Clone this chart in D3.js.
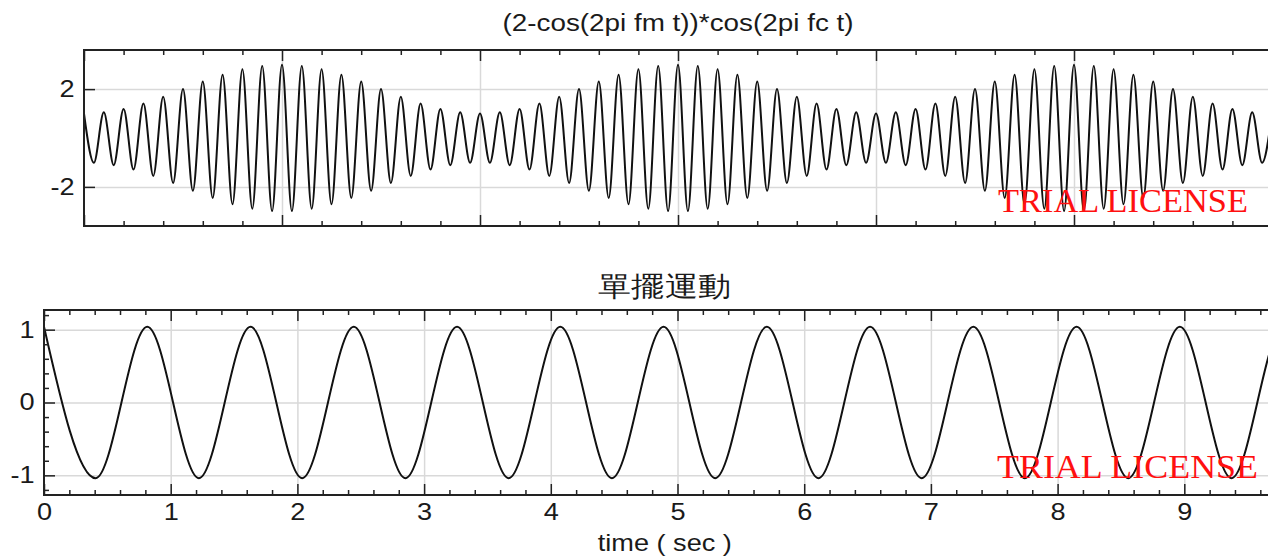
<!DOCTYPE html>
<html>
<head>
<meta charset="utf-8">
<script src="https://cdn.jsdelivr.net/npm/d3@7"></script>
<style>
  body { margin: 0; background: #fff; }
  svg { display: block; font-family: "Liberation Sans", Arial, sans-serif; }
  .grid line { stroke: #d9d9d9; stroke-width: 1.5; }
  .ticks line { stroke: #222; stroke-width: 1.5; }
  .lbl text { fill: #1a1a1a; font-size: 23px; }
</style>
</head>
<body>
<svg width="1268" height="557"></svg>
<script>
// chart text
const amTitle = "(2-cos(2pi fm t))*cos(2pi fc t)";
const pendulumTitle = "單擺運動";
const timeLabel = "time ( sec )";
const watermark = "TRIAL LICENSE";

// upper plot: peaks / troughs of the carrier, one every half carrier period
const amStep = 0.05;
const amExtrema = [
  1.00, -1.01, 1.05, -1.11, 1.19, -1.29, 1.41, -1.55, 1.69, -1.84,
  2.00, -2.16, 2.31, -2.45, 2.59, -2.71, 2.81, -2.89, 2.95, -2.99,
  3.00, -2.99, 2.95, -2.89, 2.81, -2.71, 2.59, -2.45, 2.31, -2.16,
  2.00, -1.84, 1.69, -1.55, 1.41, -1.29, 1.19, -1.11, 1.05, -1.01,
  1.00, -1.01, 1.05, -1.11, 1.19, -1.29, 1.41, -1.55, 1.69, -1.84,
  2.00, -2.16, 2.31, -2.45, 2.59, -2.71, 2.81, -2.89, 2.95, -2.99,
  3.00, -2.99, 2.95, -2.89, 2.81, -2.71, 2.59, -2.45, 2.31, -2.16,
  2.00, -1.84, 1.69, -1.55, 1.41, -1.29, 1.19, -1.11, 1.05, -1.01,
  1.00, -1.01, 1.05, -1.11, 1.19, -1.29, 1.41, -1.55, 1.69, -1.84,
  2.00, -2.16, 2.31, -2.45, 2.59, -2.71, 2.81, -2.89, 2.95, -2.99,
  3.00, -2.99, 2.95, -2.89, 2.81, -2.71, 2.59, -2.45, 2.31, -2.16,
  2.00, -1.84, 1.69, -1.55, 1.41, -1.29, 1.19, -1.11, 1.05, -1.01,
  1.00
];
const amXDomain = [0, 6];
const amYDomain = [-3.6, 3.6];
const amYTicks = [-2, 2];

// lower plot: pendulum swing extremes, one every half period (sec)
const pendulumStep = 0.4075;
const pendulumExtrema = [
  1.04, -1.04, 1.04, -1.04, 1.04, -1.04, 1.04, -1.04, 1.04, -1.04,
  1.04, -1.04, 1.04, -1.04, 1.04, -1.04, 1.04, -1.04, 1.04, -1.04,
  1.04, -1.04, 1.04, -1.04, 1.04, -1.04
];
const pendulumXDomain = [0, 9.8];
const pendulumYDomain = [-1.27, 1.27];
const pendulumXTicks = [0, 1, 2, 3, 4, 5, 6, 7, 8, 9];
const pendulumYTicks = [-1, 0, 1];

const svg = d3.select("svg");
const stretch = "scale(1.18,1)"; // the source renders its fonts a bit wide

function range(a, b, step) {
  // tick positions only
  const out = [];
  for (let v = a; v <= b + 1e-9; v += step) out.push(+v.toFixed(4));
  return out;
}

function drawPanel(cfg) {
  const { left, right, top, bottom } = cfg;
  const w = right - left, h = bottom - top;
  const x = d3.scaleLinear().domain(cfg.xDomain).range([0, w]);
  const y = d3.scaleLinear().domain(cfg.yDomain).range([h, 0]);
  const g = svg.append("g").attr("transform", `translate(${left},${top})`);

  g.append("clipPath").attr("id", cfg.id)
    .append("rect").attr("width", w).attr("height", h);

  const majorX = range(Math.ceil(cfg.xDomain[0]), cfg.xDomain[1], 1);
  const minorX = range(cfg.xDomain[0], cfg.xDomain[1], 0.2).filter(v => Math.abs(v - Math.round(v)) > 1e-6);

  // grid
  g.append("g").attr("class", "grid")
    .call(d3.axisBottom(x).tickValues(majorX.filter(v => v > cfg.xDomain[0])).tickSize(h).tickFormat(""))
    .call(a => a.select(".domain").remove());
  g.append("g").attr("class", "grid")
    .call(d3.axisLeft(y).tickValues(cfg.yGrid).tickSize(-w).tickFormat(""))
    .call(a => a.select(".domain").remove());

  // curve
  const line = d3.line()
    .x((d, i) => x(i * cfg.step))
    .y(d => y(d))
    .curve(d3.curveMonotoneX);
  g.append("path")
    .datum(cfg.values)
    .attr("clip-path", `url(#${cfg.id})`)
    .attr("fill", "none")
    .attr("stroke", "#111")
    .attr("stroke-width", 2)
    .attr("d", line);

  // inward ticks on bottom and top
  const tickGroups = [
    [d3.axisBottom, h, majorX, 11], [d3.axisBottom, h, minorX, 5],
    [d3.axisTop, 0, majorX, 11], [d3.axisTop, 0, minorX, 5]
  ];
  tickGroups.forEach(([ax, ty, vals, len]) => {
    g.append("g").attr("class", "ticks").attr("transform", `translate(0,${ty})`)
      .call(ax(x).tickValues(vals).tickSize(-len).tickFormat(""))
      .call(a => a.select(".domain").remove());
  });
  g.append("g").attr("class", "ticks")
    .call(d3.axisLeft(y).tickValues(cfg.yTicks).tickSize(-11).tickFormat(""))
    .call(a => a.select(".domain").remove());
  if (cfg.yMinor) {
    g.append("g").attr("class", "ticks")
      .call(d3.axisLeft(y).tickValues(cfg.yMinor).tickSize(-5).tickFormat(""))
      .call(a => a.select(".domain").remove());
  }

  // labels
  g.append("g").attr("class", "lbl")
    .call(d3.axisLeft(y).tickValues(cfg.yTicks).tickSize(0).tickPadding(8).tickFormat(d => String(d)))
    .call(a => a.select(".domain").remove());
  if (cfg.xLabels) {
    g.append("g").attr("class", "lbl").attr("transform", `translate(0,${h})`)
      .call(d3.axisBottom(x).tickValues(cfg.xLabels).tickSize(0).tickPadding(9).tickFormat(d => String(d)))
      .call(a => a.select(".domain").remove());
  }
  g.selectAll(".lbl text").attr("transform", stretch);

  // frame
  g.append("rect").attr("width", w).attr("height", h)
    .attr("fill", "none").attr("stroke", "#222").attr("stroke-width", 2);

  // title
  g.append("text")
    .attr("transform", `translate(${w / 2},${cfg.titleY}) ${stretch}`)
    .attr("text-anchor", "middle").attr("font-size", cfg.titleSize).attr("fill", "#1a1a1a")
    .text(cfg.title);

  // watermark
  g.append("text").attr("x", cfg.wmX - left).attr("y", cfg.wmY - top)
    .attr("font-family", "'Liberation Serif', 'Times New Roman', serif")
    .attr("font-size", 33).attr("fill", "#ff1010")
    .attr("textLength", cfg.wmLen).attr("lengthAdjust", "spacingAndGlyphs")
    .text(watermark);
  return { g, x, y, w, h };
}

drawPanel({
  id: "clipAm", left: 84, right: 1272, top: 50, bottom: 226,
  xDomain: amXDomain, yDomain: amYDomain,
  yGrid: amYTicks, yTicks: amYTicks,
  step: amStep, values: amExtrema,
  title: amTitle, titleY: -19, titleSize: 23.6,
  wmX: 998, wmY: 212, wmLen: 250
});

const p = drawPanel({
  id: "clipPend", left: 44, right: 44 + 9.8 * 126.7, top: 310, bottom: 495,
  xDomain: pendulumXDomain, yDomain: pendulumYDomain,
  yGrid: pendulumYTicks, yTicks: pendulumYTicks,
  yMinor: range(-1.2, 1.2, 0.2).filter(v => Math.abs(v - Math.round(v)) > 1e-6),
  xLabels: pendulumXTicks,
  step: pendulumStep, values: pendulumExtrema,
  title: pendulumTitle, titleY: -14, titleSize: 28,
  wmX: 997, wmY: 478, wmLen: 261
});

p.g.append("text")
  .attr("transform", `translate(${p.w / 2},${p.h + 56}) ${stretch}`)
  .attr("text-anchor", "middle").attr("font-size", 23).attr("fill", "#1a1a1a")
  .text(timeLabel);
</script>
</body>
</html>
